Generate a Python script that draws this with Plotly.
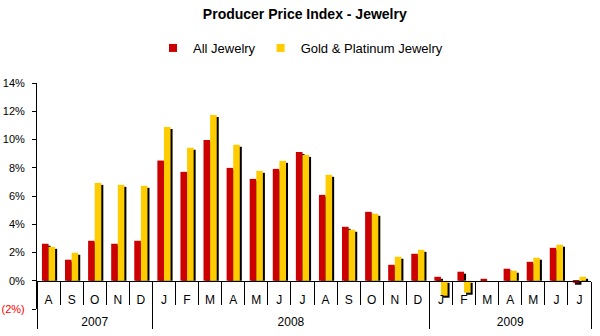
import plotly.graph_objects as go

# ---- data ----
years = ['2007'] * 5 + ['2008'] * 12 + ['2009'] * 7
months = ['A', 'S', 'O', 'N', 'D',
          'J', 'F', 'M', 'A', 'M', 'J', 'J', 'A', 'S', 'O', 'N', 'D',
          'J', 'F', 'M', 'A', 'M', 'J', 'J']
all_jewelry = [2.62, 1.49, 2.83, 2.62, 2.83,
               8.51, 7.71, 9.97, 7.99, 7.21, 7.92, 9.12, 6.08, 3.82, 4.88, 1.13, 1.91,
               0.28, 0.64, 0.14, 0.85, 1.34, 2.33, -0.14]
gold_platinum = [2.40, 1.98, 6.93, 6.79, 6.72,
                 10.89, 9.41, 11.74, 9.62, 7.78, 8.49, 8.91, 7.50, 3.61, 4.74, 1.70, 2.19,
                 -1.06, -0.85, 0.0, 0.71, 1.63, 2.55, 0.28]
y_ticks = [-2, 0, 2, 4, 6, 8, 10, 12, 14]
y_ticktext = ['<span style="color:#FF0000">(2%)</span>', '0%', '2%', '4%', '6%', '8%', '10%', '12%', '14%']

# unique category keys (zero-width spaces keep the visible month letter identical)
seen = {}
month_keys = []
for m in months:
    k = seen.get(m, 0)
    seen[m] = k + 1
    month_keys.append(m + '\u200b' * k)

# year groups -> boundaries and centres in category index units
year_names, year_start = [], []
for i, yr in enumerate(years):
    if not year_names or year_names[-1] != yr:
        year_names.append(yr)
        year_start.append(i)
year_end = year_start[1:] + [len(years)]
year_bounds = [s - 0.5 for s in year_start] + [len(years) - 0.5]
year_centres = [(s + e - 1) / 2 for s, e in zip(year_start, year_end)]
n = len(months)

RED = '#CC0000'
YEL = '#FFCC00'
W = 0.286          # bar width in category units
DX = 0.087         # shadow x shift (category units)
DY = 0.1414        # shadow y shift (percent units)


def shadow(vals):
    base, h = [], []
    for v in vals:
        if v >= 0:
            b = 0.0
            t = max(v - DY, 0.0)
        else:
            b = -DY
            t = v - DY
        base.append(b)
        h.append(t - b)
    return base, h


fig = go.Figure()
sb, sh = shadow(all_jewelry)
fig.add_trace(go.Bar(x=month_keys, y=sh, base=sb, offset=-W + DX, width=W,
                     marker=dict(color='black', line=dict(width=0)),
                     showlegend=False, hoverinfo='skip'))
fig.add_trace(go.Bar(x=month_keys, y=all_jewelry, offset=-W, width=W, name='All Jewelry',
                     marker=dict(color=RED, line=dict(width=0)), showlegend=False))
sb, sh = shadow(gold_platinum)
fig.add_trace(go.Bar(x=month_keys, y=sh, base=sb, offset=DX, width=W,
                     marker=dict(color='black', line=dict(width=0)),
                     showlegend=False, hoverinfo='skip'))
fig.add_trace(go.Bar(x=month_keys, y=gold_platinum, offset=0, width=W, name='Gold & Platinum Jewelry',
                     marker=dict(color=YEL, line=dict(width=0)), showlegend=False))

# legend entries (small square swatches)
fig.add_trace(go.Scatter(x=[None], y=[None], mode='markers', name='All Jewelry',
                         marker=dict(symbol='square', size=8, color=RED)))
fig.add_trace(go.Scatter(x=[None], y=[None], mode='markers', name='Gold & Platinum Jewelry',
                         marker=dict(symbol='square', size=8, color=YEL)))

# helper traces so the overlay axes exist
fig.add_trace(go.Scatter(x=year_bounds, y=[None] * len(year_bounds), xaxis='x2',
                         showlegend=False, hoverinfo='skip'))
fig.add_trace(go.Scatter(x=year_centres, y=[None] * len(year_centres), xaxis='x3',
                         showlegend=False, hoverinfo='skip'))

FONT = 'Liberation Sans, Arial, sans-serif'
XPOS = 0.125  # position of value 0 inside the plot area (range -2..14)
fig.update_layout(
    width=600, height=336,
    margin=dict(l=37, r=9, t=83, b=27, autoexpand=False),
    paper_bgcolor='white', plot_bgcolor='white',
    barmode='overlay',
    font=dict(family=FONT, size=11, color='black'),
    title=dict(text='<b>Producer Price Index - Jewelry</b>', x=0.508, xanchor='center',
               y=1 - 14 / 336, yanchor='middle', yref='container',
               font=dict(family=FONT, size=14, color='black')),
    legend=dict(orientation='h', x=153 / 600, xanchor='left', xref='container',
                y=1 - 48 / 336, yanchor='middle', yref='container',
                font=dict(family=FONT, size=13, color='black'), traceorder='normal'),
    showlegend=True,
    xaxis=dict(type='category', categoryorder='array', categoryarray=month_keys,
               anchor='free', position=XPOS, automargin=False,
               showline=True, linecolor='black', linewidth=1,
               ticks='', ticklabelstandoff=8,
               tickfont=dict(family=FONT, size=12, color='black'),
               showgrid=False, zeroline=False, range=[-0.5, n - 0.5]),
    xaxis2=dict(overlaying='x', anchor='free', position=XPOS, type='linear', automargin=False,
                range=[-0.5, n - 0.5], tickvals=year_bounds, showticklabels=False,
                ticks='outside', ticklen=47, tickcolor='black', tickwidth=1,
                minor=dict(tick0=-0.5, dtick=1, ticks='outside', ticklen=23,
                           tickcolor='black', tickwidth=1),
                showline=False, showgrid=False, zeroline=False),
    xaxis3=dict(overlaying='x', anchor='free', position=XPOS, type='linear', automargin=False,
                range=[-0.5, n - 0.5], tickvals=year_centres, ticktext=year_names,
                ticks='', ticklabelstandoff=32,
                tickfont=dict(family=FONT, size=12, color='black'),
                showline=False, showgrid=False, zeroline=False),
    yaxis=dict(range=[-2, 14], tickvals=y_ticks, ticktext=y_ticktext, automargin=False,
               ticks='outside', ticklen=4, tickcolor='black',
               showline=True, linecolor='black', linewidth=1,
               showgrid=False, zeroline=False, ticklabelstandoff=5,
               tickfont=dict(family=FONT, size=11, color='black')),
)

fig.write_html('out.html')
